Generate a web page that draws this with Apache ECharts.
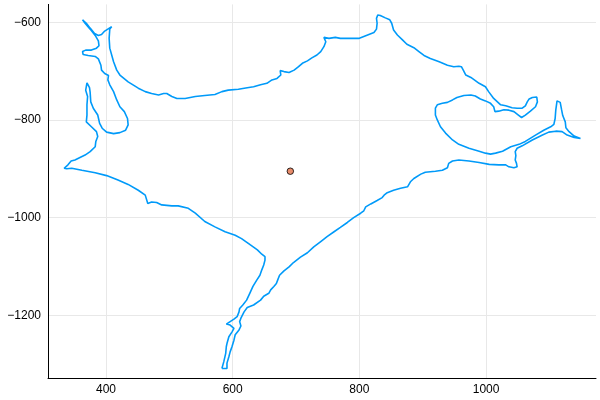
<!DOCTYPE html>
<html><head><meta charset="utf-8">
<script src="https://cdn.jsdelivr.net/npm/echarts@6/dist/echarts.min.js"></script>
<style>html,body{margin:0;padding:0;background:#fff}#c{width:600px;height:400px}</style>
</head><body><div id="c"></div>
<script>
// Outline segments, [x, y] data values
const rightRidge = [[583,-1309],[591,-1309],[591,-1298],[594,-1285],[596,-1275],[599,-1264],[602,-1251],[604,-1240],[610,-1230],[613,-1222],[611,-1213],[613,-1206],[618,-1193],[623,-1184],[633,-1179],[644,-1169],[649,-1161],[657,-1155],[660,-1148],[665,-1141],[669,-1135],[671,-1128],[674,-1118],[681,-1109],[689,-1101],[696,-1092],[707,-1081],[718,-1072],[728,-1060],[739,-1049],[749,-1039],[760,-1029],[770,-1020],[781,-1010],[791,-1000],[802,-991],[807,-986],[810,-978],[818,-972],[828,-965],[836,-959],[839,-954],[844,-949],[854,-944],[865,-940],[876,-937],[881,-926],[886,-920],[897,-911],[904,-907],[920,-905],[931,-903],[939,-898],[941,-889],[947,-884],[957,-882],[973,-884],[989,-887],[1005,-891],[1020,-892],[1031,-892]];
const eastSpur = [[1036,-896],[1044,-898],[1049,-896],[1048,-889],[1046,-882],[1047,-873],[1046,-865],[1049,-858],[1057,-853],[1073,-841],[1089,-831],[1099,-825],[1110,-823],[1120,-824],[1128,-831],[1139,-836],[1149,-838],[1139,-833],[1131,-824],[1126,-816],[1125,-804],[1121,-791],[1119,-778],[1117,-764],[1112,-761],[1109,-764],[1110,-780],[1109,-797],[1107,-809],[1102,-814],[1091,-821],[1078,-831],[1062,-844],[1052,-850],[1039,-855]];
const eastLoop = [[1026,-864],[1015,-868],[1007,-870],[999,-868],[989,-864],[973,-858],[957,-850],[947,-841],[936,-827],[928,-814],[923,-800],[920,-790],[920,-776],[923,-769],[931,-766],[939,-764],[947,-759],[954,-754],[965,-750],[976,-749],[983,-751],[991,-757],[999,-761],[1007,-766],[1012,-773],[1014,-783],[1017,-787],[1020,-782],[1028,-779],[1036,-780],[1044,-783],[1051,-790],[1056,-795],[1062,-790],[1070,-782],[1078,-773],[1081,-763],[1080,-753],[1073,-754],[1068,-757],[1065,-763],[1062,-771],[1057,-776],[1049,-776],[1041,-775],[1031,-771],[1023,-769]];
const northEdge = [[1012,-756],[1004,-742],[999,-732],[989,-725],[976,-713],[968,-708],[964,-698],[961,-691],[957,-690],[949,-691],[939,-688],[926,-681],[912,-674],[902,-668],[894,-660],[886,-652],[875,-645],[868,-636],[860,-626],[854,-616],[851,-602],[848,-595],[841,-591],[833,-586],[829,-585],[827,-592],[828,-602],[827,-614],[823,-621],[815,-625],[807,-629],[799,-633],[786,-633],[770,-633],[762,-631],[752,-633],[744,-631],[747,-640],[744,-650],[739,-660],[733,-667],[725,-673],[718,-679],[710,-684],[704,-691],[697,-698],[689,-703],[681,-701],[675,-699],[676,-708],[670,-715],[662,-718],[654,-725],[644,-728],[633,-732],[623,-734],[609,-737],[593,-739],[583,-742],[572,-748],[556,-750],[541,-752],[525,-756],[512,-756],[504,-752],[496,-746],[491,-746],[483,-749],[472,-746],[462,-742],[451,-735],[435,-722],[422,-708],[417,-698],[412,-681],[406,-653],[405,-633],[406,-614],[409,-609],[406,-607]];
const westArms = [[398,-618],[393,-625],[388,-627],[382,-623],[375,-612],[369,-602],[363,-595],[367,-602],[375,-614],[383,-627],[388,-638],[389,-648],[385,-653],[377,-657],[368,-657],[363,-660],[364,-666],[372,-668],[383,-670],[388,-675],[392,-688],[393,-698],[398,-705],[404,-709],[403,-718],[406,-728],[412,-742],[417,-759],[422,-773],[429,-783],[434,-797],[435,-810],[431,-821],[422,-826],[412,-828],[401,-825],[394,-817],[390,-807],[387,-790],[380,-776],[376,-763],[375,-743],[374,-734],[370,-724],[368,-727],[368,-739],[371,-752],[370,-769],[370,-790],[369,-804],[377,-814],[385,-824],[387,-834],[384,-844],[383,-855],[375,-865],[367,-872],[359,-877],[351,-882],[345,-884],[340,-892],[334,-899]];
const southEdge = [[338,-900],[346,-899],[362,-903],[383,-908],[401,-914],[419,-923],[435,-932],[451,-944],[462,-954],[466,-971],[472,-968],[480,-969],[488,-974],[504,-976],[514,-976],[530,-981],[541,-991],[556,-1008],[572,-1019],[588,-1029],[604,-1036],[614,-1043],[628,-1056],[639,-1066],[646,-1075],[651,-1080],[651,-1087],[649,-1097],[646,-1107],[643,-1118],[638,-1128],[632,-1141],[627,-1155],[622,-1169],[616,-1179],[611,-1186],[610,-1193],[607,-1203],[602,-1208],[596,-1213],[590,-1218],[596,-1220],[602,-1227],[599,-1234],[594,-1244],[591,-1258],[590,-1264],[589,-1278],[586,-1295],[583,-1309]];
const markerX = [691];
const markerY = [-905];
const xTicks = [400, 600, 800, 1000];
const yTicks = [-1200, -1000, -800, -600];

const outline = [].concat(rightRidge, eastSpur, eastLoop, northEdge, westArms, southEdge);
const marker = markerX.map((x, i) => [x, markerY[i]]);
const fmt = v => String(v).replace('-', '\u2212');
const lbl = {color:'#000', fontSize:12, fontFamily:'Liberation Sans', formatter: fmt};

const chart = echarts.init(document.getElementById('c'), null, {renderer:'canvas'});
chart.setOption({
  animation: false,
  backgroundColor: '#fff',
  grid: {left:48, right:4, top:4.4, bottom:21.4, containLabel:false},
  xAxis: {
    type:'value', min:308.5, max:1173.5,
    axisLine:{show:true, onZero:false, lineStyle:{color:'#000', width:1}},
    axisTick:{show:false, customValues:xTicks},
    axisLabel:Object.assign({customValues:xTicks, margin:5}, lbl),
    splitLine:{show:true, lineStyle:{color:'#e8e8e8', width:1}}
  },
  yAxis: {
    type:'value', min:-1329.7, max:-563.4,
    axisLine:{show:true, onZero:false, lineStyle:{color:'#000', width:1}},
    axisTick:{show:false, customValues:yTicks},
    axisLabel:Object.assign({customValues:yTicks, margin:7}, lbl),
    splitLine:{show:true, lineStyle:{color:'#e8e8e8', width:1}}
  },
  series: [
    {type:'line', data: outline, showSymbol:false, symbol:'none', silent:true,
     lineStyle:{color:'#009af9', width:1.6}},
    {type:'scatter', data: marker, symbol:'circle', symbolSize:6.5,
     itemStyle:{color:'#e26f46', borderColor:'#000', borderWidth:1}}
  ]
});
</script></body></html>
